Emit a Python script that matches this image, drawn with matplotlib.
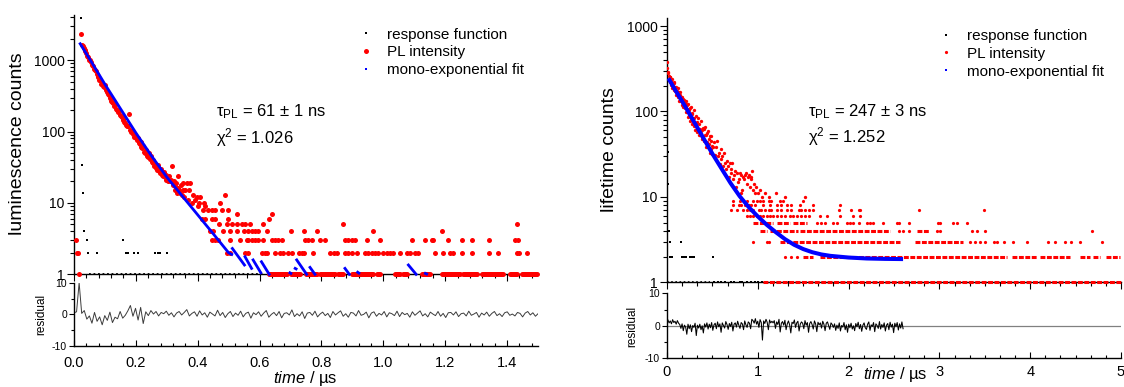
import numpy as np
import matplotlib
matplotlib.use('Agg')
import matplotlib.pyplot as plt
from matplotlib.ticker import MultipleLocator, LogLocator, NullFormatter, FuncFormatter
from matplotlib.lines import Line2D

plt.rcParams['font.family'] = ['Liberation Sans', 'DejaVu Sans']
plt.rcParams['mathtext.fontset'] = 'custom'
plt.rcParams['mathtext.rm'] = 'Liberation Sans'
plt.rcParams['mathtext.it'] = 'Liberation Sans:italic'
plt.rcParams['axes.unicode_minus'] = False

# ---------------- left panel data (tau = 61 ns) ----------------
# decay part of the PL histogram (time in us, counts)
l_dec_t = [0.022, 0.025, 0.028, 0.031, 0.034, 0.037, 0.040, 0.043, 0.046, 0.049, 0.052, 0.055,
           0.058, 0.061, 0.064, 0.067, 0.070, 0.073, 0.076, 0.079, 0.082, 0.085, 0.088, 0.091,
           0.094, 0.097, 0.100, 0.103, 0.106, 0.109, 0.112, 0.115, 0.118, 0.121, 0.124, 0.127,
           0.130, 0.133, 0.136, 0.139, 0.142, 0.145, 0.148, 0.151, 0.154, 0.157, 0.160, 0.163,
           0.166, 0.169, 0.172, 0.175, 0.179, 0.182, 0.185, 0.188, 0.191, 0.194, 0.197, 0.200,
           0.203, 0.206, 0.209, 0.212, 0.215, 0.218, 0.221, 0.224, 0.227, 0.230, 0.233, 0.236,
           0.239, 0.242, 0.245, 0.248, 0.251, 0.254, 0.257, 0.260, 0.263, 0.266, 0.269, 0.272,
           0.275, 0.278, 0.281, 0.284, 0.287, 0.290, 0.293, 0.296, 0.299, 0.302, 0.305, 0.308,
           0.311, 0.314, 0.316, 0.319, 0.322, 0.325, 0.327, 0.330, 0.332, 0.335, 0.337, 0.340,
           0.343, 0.346, 0.349, 0.352, 0.353, 0.356, 0.360, 0.364, 0.368, 0.371, 0.375, 0.380,
           0.386, 0.392, 0.397, 0.403, 0.408, 0.420, 0.472, 0.488]
l_dec_v = [2300, 1650, 1580, 1480, 1380, 1350, 1250, 1160, 1120, 1020, 1000, 930,
           870, 840, 760, 720, 700, 640, 610, 590, 530, 520, 470, 460,
           430, 420, 450, 380, 360, 340, 330, 300, 300, 270, 260, 250,
           230, 235, 210, 200, 190, 195, 170, 165, 160, 150, 145, 135,
           130, 125, 120, 118, 176, 105, 100, 102, 92, 85, 90, 80,
           76, 82, 70, 66, 72, 60, 58, 63, 52, 50, 56, 46,
           44, 50, 41, 45, 38, 36, 40, 33, 35, 31, 29, 34,
           28, 26, 30, 25, 24, 27, 23, 21, 25, 22, 20, 24,
           20, 21, 33, 18, 20, 17, 15, 19, 14, 16, 24, 15,
           14, 18, 13, 15, 19, 12, 15, 19, 11, 15, 19, 10,
           13, 11, 12, 10, 12, 10, 10, 13]
# low-count tail: times of the bins holding 2..9 counts
l_t9 = [0.400, 0.425]
l_t8 = [0.418, 0.434, 0.445, 0.456, 0.478, 0.499]
l_t7 = [0.526, 0.640]
l_t6 = [0.415, 0.423, 0.445, 0.456, 0.499, 0.630]
l_t5 = [0.470, 0.494, 0.510, 0.526, 0.542, 0.553, 0.569, 0.612, 0.869, 1.431]
l_t4 = [0.439, 0.450, 0.483, 0.505, 0.526, 0.548, 0.564, 0.574, 0.585, 0.596, 0.623, 0.700,
        0.742, 0.785, 0.968, 1.191]
l_t3 = [0.006, 0.445, 0.456, 0.467, 0.505, 0.537, 0.558, 0.564, 0.574, 0.585, 0.596, 0.612,
        0.639, 0.650, 0.661, 0.672, 0.747, 0.758, 0.768, 0.795, 0.811, 0.876, 0.887, 0.898,
        0.908, 0.948, 0.989, 1.092, 1.135, 1.157, 1.162, 1.210, 1.253, 1.286, 1.343, 1.426, 1.436]
l_t2 = [0.010, 0.014, 0.494, 0.505, 0.553, 0.564, 0.607, 0.618, 0.623, 0.650, 0.666, 0.677,
        0.693, 0.704, 0.726, 0.736, 0.742, 0.774, 0.828, 0.839, 0.849, 0.876, 0.887, 0.898,
        0.914, 0.941, 0.951, 0.962, 0.973, 0.984, 1.000, 1.011, 1.022, 1.032, 1.054, 1.075,
        1.086, 1.102, 1.113, 1.167, 1.194, 1.215, 1.226, 1.253, 1.286, 1.340, 1.372, 1.431,
        1.440, 1.463]
l_t1 = [0.015]
# runs of consecutive bins with a single count
l_run1_start = [0.63, 0.70, 0.75, 0.795, 0.855, 0.898, 0.979, 1.038, 1.065, 1.124, 1.189, 1.259, 1.318, 1.409, 1.447]
l_run1_end = [0.69, 0.73, 0.785, 0.844, 0.871, 0.968, 0.989, 1.054, 1.075, 1.151, 1.248, 1.302, 1.388, 1.431, 1.496]

# instrument response function
l_irf_t = [0.0226, 0.025, 0.030, 0.033, 0.041, 0.046, 0.073, 0.160, 0.168, 0.176, 0.194, 0.206,
           0.262, 0.270, 0.278, 0.302]
l_irf_v = [3850, 34, 14, 4, 3, 2, 2, 3, 2, 2, 2, 2, 2, 2, 2, 2]
l_irf_run1 = (0.05, 0.61)

# mono-exponential fit
l_fit_t = [0.02, 0.05, 0.1, 0.15, 0.2, 0.25, 0.3, 0.35, 0.4, 0.45, 0.5, 0.51]
l_fit_v = [1700, 1050, 460, 210, 96, 46, 23, 12.5, 6.8, 3.7, 2.0, 1.9]
# broken pieces of the fit below 2 counts
l_seg_t0 = [0.512, 0.553, 0.579, 0.606, 0.698, 0.715, 0.720, 0.763, 0.876, 0.917, 1.081, 1.136]
l_seg_v0 = [2.3, 1.76, 1.59, 1.5, 1.05, 1.21, 1.59, 1.25, 1.21, 1.07, 1.35, 1.03]
l_seg_t1 = [0.551, 0.574, 0.604, 0.631, 0.701, 0.718, 0.752, 0.779, 0.890, 0.921, 1.106, 1.140]
l_seg_v1 = [1.35, 1.21, 1.05, 1.0, 1.03, 1.19, 1.0, 1.0, 1.0, 1.04, 1.0, 1.01]

# weighted residuals, evenly spaced from 0 to 1.5 us
l_res = [0.5, 0.8, 10, 0.3, 1.2, -1.5, -0.5, -2.8, 0.6, -2.2, -0.8, -3.3, -0.4, -1.9, 0.7, -2.6,
         -0.9, -1.4, 0.9, -1.2, -0.3, 1.1, 2.8, -0.6, 1.9, -1.8, 2.2, -2.9, 0.8, -0.4, 1.2, 0.1,
         0.9, -0.5, 0.6, 0.2, 1.0, -0.3, 0.5, -0.8, 0.4, 0.9, -0.2, 0.6, 1.5, -0.5, 0.3,
         0.8, -0.6, 1.1, -0.2, 0.5, -0.9, 0.7, 0.1, -0.5, 1.3, -0.4, 0.6, -1.0, 0.2, 0.9, -0.7,
         0.4, -0.3, 1.0, -0.8, 0.3, 0.7, -1.2, 0.5, -0.1, 0.8, -0.6, 0.4, 1.2, -0.9, 0.0, 0.6,
         -0.4, 0.9, -1.1, 0.3, 0.5, -0.2, 1.4, -0.7, 0.2, -0.5, 0.8, -1.3, 0.4, 0.6, -0.3, 1.0,
         -0.8, 0.1, 0.7, -0.4, 0.3, -1.0, 0.9, -0.2, 0.5, 1.1, -0.6, 0.2, -0.9, 0.6, 0.4, -0.5,
         1.2, -0.3, 0.0, 0.7, -1.1, 0.4, 0.8, -0.6, 0.3, -0.2, 0.9, -0.8, 0.5, 0.2, -0.4, 1.0,
         -0.7, 0.6, -0.1, 0.3, -0.9, 0.8, -0.3, 0.4, 1.1, -0.5, 0.2, -0.8, 0.7, 0.1, -0.4, 0.9,
         -0.6, 0.3, -1.0, 0.5, 0.6, -0.2, 0.8, -0.7, 0.2, 0.4, -0.5, 1.0, -0.3, 0.1, 0.6, -0.9,
         0.4, -0.2, 0.7, -0.6, 0.3, 0.9, -0.4, 0.2, -0.7, 0.5, 0.8, -0.3, 0.1, -0.5, 0.6, 0.3,
         -0.8, 0.4, 0.9, -0.2, 0.5, -0.6, 0.2]
l_res_span = (0.0, 1.5)

# ---------------- right panel data (tau = 247 ns) ----------------
r_dec_t = [0.004, 0.004, 0.012, 0.016, 0.020, 0.024, 0.028, 0.032, 0.036, 0.040, 0.044, 0.048,
           0.052, 0.056, 0.060, 0.064, 0.068, 0.072, 0.076, 0.080, 0.084, 0.088, 0.092, 0.096,
           0.100, 0.104, 0.108, 0.112, 0.116, 0.120, 0.124, 0.128, 0.132, 0.136, 0.140, 0.144,
           0.148, 0.152, 0.156, 0.160, 0.164, 0.168, 0.172, 0.176, 0.180, 0.184, 0.188, 0.192,
           0.196, 0.200, 0.204, 0.208, 0.212, 0.216, 0.220, 0.224, 0.228, 0.232, 0.236, 0.240,
           0.244, 0.248, 0.252, 0.256, 0.260, 0.264, 0.268, 0.272, 0.276, 0.280, 0.284, 0.288,
           0.292, 0.296, 0.300, 0.305, 0.310, 0.315, 0.320, 0.325, 0.330, 0.335, 0.340, 0.345,
           0.350, 0.355, 0.360, 0.365, 0.370, 0.375, 0.380, 0.385, 0.390, 0.395, 0.400, 0.405,
           0.410, 0.415, 0.420, 0.425, 0.430, 0.435, 0.440, 0.445, 0.450, 0.455, 0.460, 0.465,
           0.470, 0.475, 0.480, 0.485, 0.490, 0.495, 0.500, 0.510, 0.520, 0.530, 0.540, 0.550,
           0.560, 0.570, 0.580, 0.590, 0.600, 0.610, 0.620, 0.630, 0.640, 0.650, 0.660, 0.670,
           0.680, 0.690, 0.700, 0.710, 0.720, 0.730, 0.740, 0.750, 0.760, 0.770, 0.780, 0.790,
           0.800, 0.810, 0.820, 0.830, 0.840, 0.850, 0.860, 0.870, 0.880, 0.890, 0.900, 0.910,
           0.920, 0.930, 0.940, 0.950, 0.960, 0.970, 0.980, 1.000, 1.020, 1.050, 1.080, 1.120,
           1.200, 1.300, 1.520]
r_dec_v = [385, 320, 290, 285, 257, 234, 256, 221, 256, 230, 206, 240,
           214, 189, 238, 211, 192, 214, 178, 224, 189, 172, 193, 173,
           194, 154, 174, 164, 187, 147, 161, 148, 167, 132, 154, 143,
           168, 131, 141, 120, 147, 132, 122, 141, 112, 128, 117, 136,
           109, 118, 124, 98, 133, 107, 98, 120, 87, 105, 123, 92,
           103, 77, 109, 92, 80, 113, 83, 94, 71, 97, 83, 73,
           104, 67, 83, 73, 60, 89, 73, 64, 76, 58, 84, 62,
           53, 71, 63, 53, 78, 56, 48, 61, 50, 64, 51, 62,
           45, 53, 65, 44, 53, 38, 56, 44, 59, 38, 48, 42,
           51, 33, 45, 36, 52, 39, 32, 38, 44, 31, 38, 45,
           30, 33, 24, 36, 28, 30, 23, 33, 25, 21, 26, 23,
           17, 25, 19, 21, 25, 16, 18, 20, 13, 19, 15, 16,
           19, 11, 18, 12, 17, 16, 18, 19, 14, 17, 18, 13,
           16, 17, 20, 12, 14, 11, 13, 11, 12, 10, 11, 10,
           11, 10, 10]
r_t9 = [0.73, 0.80, 0.88, 0.95, 0.99, 1.02, 1.06, 1.12, 1.15, 1.24, 1.28, 1.50]
r_t8 = [0.73, 0.79, 0.82, 0.86, 0.90, 0.93, 0.97, 1.06, 1.13, 1.21, 1.26, 1.32, 1.37, 1.46, 1.61, 1.91]
r_t7 = [0.71, 0.77, 0.84, 0.88, 0.91, 0.95, 1.01, 1.04, 1.08, 1.12, 1.15, 1.21, 1.26, 1.32, 1.37,
        1.45, 1.48, 1.52, 1.56, 1.61, 1.89, 2.03, 2.11, 2.125, 2.77, 3.49]
r_t6 = [0.88, 0.91, 0.95, 0.99, 1.02, 1.06, 1.10, 1.13, 1.17, 1.21, 1.26, 1.30, 1.35, 1.39, 1.43,
        1.48, 1.52, 1.56, 1.68, 1.76, 1.91, 2.05, 2.13]
r_t5 = [1.65, 1.70, 1.74, 1.83, 1.87, 1.98, 2.02, 2.05, 2.11, 2.20, 2.24, 2.27, 2.38, 2.53, 2.55,
        2.67, 2.98, 3.01, 3.15, 3.19, 3.30]
r_t4 = [2.55, 2.60, 2.66, 2.97, 3.01, 3.36, 3.41, 3.50, 4.68]
r_t3 = [0.95, 1.10, 1.12, 3.34, 3.39, 3.45, 3.50, 3.60, 3.63, 3.71, 3.81, 3.96, 4.20, 4.27, 4.38,
        4.45, 4.55, 4.79]
r_t2 = [1.30, 1.37, 1.43]
# runs of consecutive bins at the same count level
r_run_level = [5, 5, 5, 4, 4, 4, 4, 3, 3, 2, 2, 2, 2, 2, 2, 2, 1]
r_run_start = [0.95, 1.21, 1.39, 1.02, 1.13, 1.46, 2.75, 1.24, 2.73, 1.50, 1.68, 3.80, 4.11, 4.55, 4.69, 4.84, 1.06]
r_run_end = [1.17, 1.35, 1.54, 1.10, 1.44, 2.46, 2.88, 2.57, 3.26, 1.61, 3.74, 4.07, 4.44, 4.66, 4.77, 4.99, 5.0]

r_irf_t = [0.015, 0.015, 0.027, 0.030, 0.155, 0.030, 0.045, 0.060, 0.160, 0.175, 0.190, 0.210,
           0.250, 0.270, 0.290, 0.300, 0.510]
r_irf_v = [34, 14, 4, 3, 3, 2, 2, 2, 2, 2, 2, 2, 2, 2, 2, 2, 2]
r_irf_t1 = [0.52, 0.56, 0.60, 0.64, 0.70, 0.74, 0.80, 0.83, 0.88, 0.92, 0.97, 1.00, 1.05, 1.10,
            1.14, 1.18, 1.24, 1.30, 1.34]
r_irf_run1 = (0.0, 0.47)

r_fit_t = [0.015, 0.1, 0.2, 0.3, 0.4, 0.5, 0.6, 0.7, 0.8, 0.9, 1.0, 1.1, 1.2, 1.3, 1.4, 1.5,
           1.6, 1.7, 1.8, 2.0, 2.2, 2.4, 2.6]
r_fit_v = [245, 172, 115, 75, 49, 32, 21.5, 14.5, 10.2, 7.6, 5.9, 4.7, 3.85, 3.2, 2.75, 2.45,
           2.25, 2.12, 2.04, 1.95, 1.9, 1.88, 1.87]

r_res = [1.8, 0.9, 1.5, 0.6, 1.9, 1.0, 1.4, 0.5, 1.6, 0.8,
         0.4, -0.8, 0.6, -1.5, 0.2, -0.4, -2.6, 0.5, -0.9, 0.3, -1.8, 0.1, -0.5, 0.8, -3.0, 0.2,
         -0.7, 0.5, -1.2, 0.0, -2.2, 0.6, -0.4, 0.9, -1.0,
         0.5, -0.6, 1.0, -1.4, 0.3, 0.8, -0.9, 1.2, -0.3, 0.6, -2.0, 0.9, 0.1, -0.7, 1.3, 0.4,
         -1.1, 0.7, -0.2, 1.1, -1.6, 0.5, 0.9, -0.4, 1.4, 0.2, -0.8, 1.0, 0.6, -1.2, 1.5, 0.3,
         -0.5, 1.2, 0.8, -0.9, 2.0,
         1.6, 0.8, 2.2, 0.5, 1.4, -0.5, 1.9, 1.0, -4.4, 1.5, 0.7, 2.0, 1.1, -1.2, 1.8, 0.9, 1.4,
         0.9, 1.6, -0.8, 1.2, 0.4, 2.0, -1.9, 0.8, 1.3, 0.2, 1.7, -1.2, 0.6, 1.5, 0.3, -2.2, 1.1,
         0.7, 1.8, -0.5, 0.9, 1.4, -1.6, 0.5, 1.2, 0.8, -0.9, 1.6, 0.2, 1.0, -2.0, 0.7, 1.3, 0.4,
         -1.0, 1.5, 0.6, -1.8, 1.1, 0.3, 0.9, -0.7, 1.4, 0.5, -1.5, 0.8, 1.2, 0.1, -1.1, 0.9, 0.4,
         -0.5, 0.6, -1.4, 0.2, -0.8, 0.9, -1.6, 0.1, -0.4, 1.0, -1.2, 0.3, -2.0, 0.5, -0.6, 0.8,
         -1.0, 0.0, -1.5, 0.7, -0.3, 1.1, -0.9, 0.4, -1.7, 0.2, 0.9, -0.6, -1.1, 0.5, 1.2, -1.4,
         0.3, -0.2, 1.0, -1.8, 0.6, 0.1, -0.8, 1.3, -1.0, 0.4, -0.5, 0.9, -1.6, 0.2, 0.7, -1.2,
         1.1, -0.4, 0.5, -2.1, 0.8, -0.3, 1.0, -1.3, 0.6, -0.7, 1.2, -0.9]
r_res_span = (0.01, 2.6)

legend_labels = ['response function', 'PL intensity', 'mono-exponential fit']

# ---------------- layout ----------------
W, H = 1124, 387
fig = plt.figure(figsize=(W / 100, H / 100), dpi=100)


def box(x0, y0, x1, y1):
    return [x0 / W, 1 - y1 / H, (x1 - x0) / W, (y1 - y0) / H]


def fx(x):
    return x / W


def fy(y):
    return 1 - y / H


axL = fig.add_axes(box(74, 15, 538, 274.3))
axLr = fig.add_axes(box(74, 282.7, 538, 346))
axR = fig.add_axes(box(667, 18.3, 1121, 282.3))
axRr = fig.add_axes(box(667, 293.3, 1121, 358.3))


def style_main(ax, xmax, ymax, major, minor):
    ax.set_yscale('log')
    ax.set_xlim(0, xmax)
    ax.set_ylim(1, ymax)
    for s in ['top', 'right']:
        ax.spines[s].set_visible(False)
    for s in ['left', 'bottom']:
        ax.spines[s].set_linewidth(1.0)
    ax.xaxis.set_major_locator(MultipleLocator(major))
    ax.xaxis.set_minor_locator(MultipleLocator(minor))
    ax.yaxis.set_major_locator(LogLocator(base=10, numticks=10))
    ax.yaxis.set_minor_locator(LogLocator(base=10, subs=np.arange(2, 10), numticks=10))
    ax.yaxis.set_major_formatter(FuncFormatter(lambda v, p: f'{v:g}'))
    ax.yaxis.set_minor_formatter(NullFormatter())
    ax.tick_params(which='both', direction='out', width=0.8, labelsize=10, pad=1.8)
    ax.tick_params(which='major', length=4.8)
    ax.tick_params(which='minor', length=2.6)
    ax.tick_params(axis='x', labelbottom=False)


def style_res(ax, xmax, major, minor, fmt, xpad):
    ax.set_xlim(0, xmax)
    ax.set_ylim(-10, 10)
    for s in ['top', 'right']:
        ax.spines[s].set_visible(False)
    for s in ['left', 'bottom']:
        ax.spines[s].set_linewidth(1.0)
    ax.xaxis.set_major_locator(MultipleLocator(major))
    ax.xaxis.set_minor_locator(MultipleLocator(minor))
    ax.xaxis.set_major_formatter(FuncFormatter(fmt))
    ax.set_yticks([-10, 0, 10])
    ax.set_yticks([-5, 5], minor=True)
    ax.tick_params(axis='x', which='both', direction='in', width=0.8, labelsize=10.5, pad=xpad)
    ax.tick_params(axis='x', which='major', length=4.5)
    ax.tick_params(axis='x', which='minor', length=2.4)
    ax.tick_params(axis='y', which='both', direction='out', width=0.8, labelsize=7.5, pad=1.5)
    ax.tick_params(axis='y', which='major', length=3.5)
    ax.tick_params(axis='y', which='minor', length=2)


def draw_levels(ax, lists, ms):
    for level, ts in lists:
        ax.plot(ts, [level] * len(ts), 'o', color='red', ms=ms, mew=0, clip_on=False, zorder=3)


# ---------------- left panel ----------------
style_main(axL, 1.5, 4300, 0.2, 0.04)
axL.plot(l_irf_t, l_irf_v, 's', color='black', ms=1.8, mew=0, zorder=2)
axL.hlines([1], [l_irf_run1[0]], [l_irf_run1[1]], color='black', lw=1.3, linestyles=[(0, (1, 1.5))],
           clip_on=False, zorder=2)
axL.plot(l_dec_t, l_dec_v, 'o', color='red', ms=3.6, mew=0, zorder=3)
draw_levels(axL, [(9, l_t9), (8, l_t8), (7, l_t7), (6, l_t6), (5, l_t5), (4, l_t4),
                  (3, l_t3), (2, l_t2), (1, l_t1)], 3.6)
axL.hlines([1] * len(l_run1_start), l_run1_start, l_run1_end, color='red', lw=3.6, capstyle='round',
           clip_on=False, zorder=3)
axL.plot(l_fit_t, l_fit_v, color='blue', lw=2.0, zorder=4)
for t0, v0, t1, v1 in zip(l_seg_t0, l_seg_v0, l_seg_t1, l_seg_v1):
    axL.plot([t0, t1], [v0, v1], color='blue', lw=2.0, zorder=4, clip_on=False)

style_res(axLr, 1.5, 0.2, 0.04, lambda v, p: f'{v:.1f}', 7)
axLr.plot(np.linspace(l_res_span[0], l_res_span[1], len(l_res)), l_res, color='#3c3c3c', lw=0.7)

# ---------------- right panel ----------------
style_main(axR, 5, 1234, 1, 1 / 6)
axR.plot(r_irf_t, r_irf_v, 's', color='black', ms=1.8, mew=0, zorder=2)
axR.plot(r_irf_t1, [1] * len(r_irf_t1), 's', color='black', ms=1.6, mew=0, clip_on=False, zorder=2)
axR.hlines([1], [r_irf_run1[0]], [r_irf_run1[1]], color='black', lw=1.2, linestyles=[(0, (1, 1.5))],
           clip_on=False, zorder=2)
axR.plot(r_dec_t, r_dec_v, 'o', color='red', ms=2.4, mew=0, zorder=3)
draw_levels(axR, [(9, r_t9), (8, r_t8), (7, r_t7), (6, r_t6), (5, r_t5), (4, r_t4),
                  (3, r_t3), (2, r_t2)], 2.3)
axR.hlines(r_run_level, r_run_start, r_run_end, color='red', lw=2.2, linestyles=[(0, (1.6, 0.5))],
           clip_on=False, zorder=3)
axR.plot(r_fit_t, r_fit_v, color='blue', lw=2.9, zorder=4, solid_capstyle='butt')

style_res(axRr, 5, 1, 1 / 6, lambda v, p: f'{v:g}', 5)
axRr.axhline(0, color='#808080', lw=0.9, zorder=1)
axRr.plot(np.linspace(r_res_span[0], r_res_span[1], len(r_res)), r_res, color='black', lw=0.75, zorder=2)

# ---------------- text ----------------
fig.text(fx(18), fy(144), 'luminescence counts', rotation=90, ha='center', va='center', fontsize=14)
fig.text(fx(41), fy(314), 'residual', rotation=90, ha='center', va='center', fontsize=8.5)
fig.text(fx(305), fy(379), r'$\mathit{time}$ / µs', ha='center', va='center', fontsize=12)
fig.text(fx(216), fy(112), 'τ$_{\\mathregular{PL}}$ = 61 ± 1 ns', ha='left', va='center', fontsize=12)
fig.text(fx(216), fy(138), 'χ$^{\\mathregular{2}}$ = 1.026', ha='left', va='center', fontsize=12)

fig.text(fx(610), fy(150), 'lifetime counts', rotation=90, ha='center', va='center', fontsize=14)
fig.text(fx(632), fy(326), 'residual', rotation=90, ha='center', va='center', fontsize=8.5)
fig.text(fx(863), fy(374), r'$\mathit{time}$ / µs', ha='left', va='center', fontsize=12)
fig.text(fx(808), fy(112), 'τ$_{\\mathregular{PL}}$ = 247 ± 3 ns', ha='left', va='center', fontsize=12)
fig.text(fx(808), fy(137), 'χ$^{\\mathregular{2}}$ = 1.252', ha='left', va='center', fontsize=12)


def make_legend(x, y, red_ms):
    handles = [Line2D([], [], ls='none', marker='s', ms=1.8, mew=0, color='black'),
               Line2D([], [], ls='none', marker='o', ms=red_ms, mew=0, color='red'),
               Line2D([], [], ls='none', marker='s', ms=1.8, mew=0, color='blue')]
    fig.legend(handles, legend_labels, loc='upper left', bbox_to_anchor=(fx(x), fy(y)),
               frameon=False, borderpad=0, borderaxespad=0, handlelength=1.0,
               handletextpad=0.9, labelspacing=0.25, fontsize=11)


make_legend(358, 27.5, 3.6)
make_legend(938, 29, 2.3)

fig.savefig('out.png', dpi=100)
